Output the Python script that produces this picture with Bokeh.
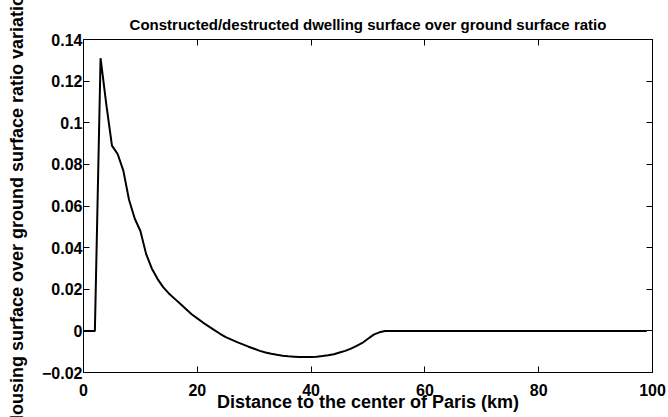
from bokeh.plotting import figure
from bokeh.models import LinearAxis, FixedTicker, CustomJSTickFormatter, Range1d
from bokeh.embed import file_html
from bokeh.resources import INLINE

title_text = "Constructed/destructed dwelling surface over ground surface ratio"
x_label = "Distance to the center of Paris (km)"
y_label = "Housing surface over ground surface ratio variation"

distance_km = list(range(0, 100))
ratio_variation = [
    0, 0, 0, 0.131, 0.109, 0.089, 0.085, 0.077, 0.063, 0.054,
    0.048, 0.037, 0.030, 0.025, 0.021, 0.018, 0.0155, 0.013, 0.0105, 0.008,
    0.006, 0.004, 0.0022, 0.0004, -0.0014, -0.003, -0.0042, -0.0054, -0.0065, -0.0076,
    -0.0086, -0.0096, -0.0104, -0.011, -0.0115, -0.0119, -0.0122, -0.0124, -0.0126, -0.0126,
    -0.0126, -0.0124, -0.0121, -0.0117, -0.0112, -0.0104, -0.0096, -0.0085, -0.0072, -0.0058,
    -0.0038, -0.0018, -0.0007, -0.0001, 0, 0, 0, 0, 0, 0,
    0, 0, 0, 0, 0, 0, 0, 0, 0, 0,
    0, 0, 0, 0, 0, 0, 0, 0, 0, 0,
    0, 0, 0, 0, 0, 0, 0, 0, 0, 0,
    0, 0, 0, 0, 0, 0, 0, 0, 0, 0,
]

x_ticks = [0, 20, 40, 60, 80, 100]
y_ticks = [-0.02, 0, 0.02, 0.04, 0.06, 0.08, 0.1, 0.12, 0.14]

FONT = "Liberation Sans"

p = figure(width=668, height=417, x_range=Range1d(0, 100), y_range=Range1d(-0.02, 0.14),
           output_backend="svg", toolbar_location=None,
           min_border_left=83, min_border_right=16, min_border_top=39, min_border_bottom=45,
           title=title_text)
p.background_fill_color = "white"
p.border_fill_color = "white"
p.outline_line_color = "black"
p.outline_line_width = 1
p.grid.visible = False

p.title.text_font = FONT
p.title.text_font_size = "15px"
p.title.text_font_style = "bold"
p.title.align = "center"
p.title.text_color = "black"
p.title.standoff = 14

yfmt = CustomJSTickFormatter(code="""
let s = tick.toFixed(2);
s = s.replace(/0+$/, '').replace(/\\.$/, '');
if (s === '-0') { s = '0'; }
return s.replace('-', '\\u2212');
""")
blank_fmt = CustomJSTickFormatter(code="return '';")

def style_axis(ax, ticks, show_labels):
    ax.ticker = FixedTicker(ticks=ticks)
    ax.major_tick_in = 6
    ax.major_tick_out = 0
    ax.minor_tick_in = 0
    ax.minor_tick_out = 0
    ax.major_tick_line_color = "black"
    ax.axis_line_color = "black"
    ax.axis_line_width = 1
    if show_labels:
        ax.major_label_text_font = FONT
        ax.major_label_text_font_size = "16px"
        ax.major_label_text_font_style = "bold"
        ax.major_label_text_color = "black"
        ax.axis_label_text_font = FONT
        ax.axis_label_text_font_size = "18px"
        ax.axis_label_text_font_style = "bold"
        ax.axis_label_text_color = "black"
    else:
        ax.formatter = blank_fmt
        ax.major_label_text_font_size = "1px"
        ax.major_label_standoff = 0

xa = p.xaxis[0]
ya = p.yaxis[0]
style_axis(xa, x_ticks, True)
style_axis(ya, y_ticks, True)
xa.axis_label = x_label
ya.axis_label = y_label
ya.formatter = yfmt
xa.major_label_standoff = 11
xa.axis_label_standoff = -7
ya.major_label_standoff = 1
ya.axis_label_standoff = 12

top_ax = LinearAxis()
style_axis(top_ax, x_ticks, False)
p.add_layout(top_ax, "above")
right_ax = LinearAxis()
style_axis(right_ax, y_ticks, False)
p.add_layout(right_ax, "right")

p.line(distance_km, ratio_variation, line_color="black", line_width=2)

open("out.html", "w").write(file_html(p, INLINE))
